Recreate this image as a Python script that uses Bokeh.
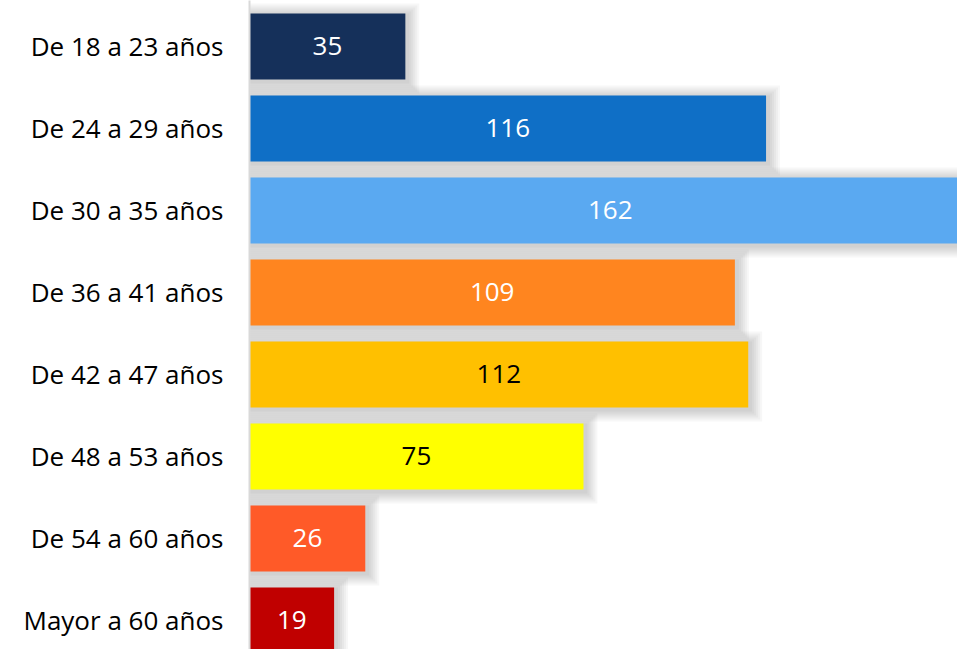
from bokeh.plotting import figure
from bokeh.models import ColumnDataSource, Range1d, FixedTicker
from bokeh.core.properties import value
from bokeh.embed import file_html
from bokeh.resources import INLINE

categories = ["De 18 a 23 años", "De 24 a 29 años", "De 30 a 35 años", "De 36 a 41 años",
              "De 42 a 47 años", "De 48 a 53 años", "De 54 a 60 años", "Mayor a 60 años"]
values = [35, 116, 162, 109, 112, 75, 26, 19]
colors = ["#15305A", "#0F6FC6", "#5AA9F1", "#FF851F", "#FFC000", "#FFFF00", "#FF5A28", "#C00000"]
label_colors = ["white", "white", "white", "white", "black", "black", "white", "white"]

ypos = list(range(len(categories)))
src = ColumnDataSource(dict(
    y=ypos, v=values, mid=[v / 2 for v in values], color=colors,
    lab=[str(v) for v in values], lc=label_colors))

W, H = 957, 649
LEFT = 249
PX_X = 4.453  # pixels per unit
PX_Y = 82.0   # pixels per category
TOP = -0.56

p = figure(width=W, height=H, output_backend="svg", toolbar_location=None,
           x_range=Range1d(0, (W - LEFT) / PX_X),
           y_range=Range1d(TOP + H / PX_Y, TOP),
           min_border_left=LEFT, min_border_right=0, min_border_top=0, min_border_bottom=0)
p.outline_line_color = None
p.xgrid.visible = False
p.ygrid.visible = False
p.xaxis.visible = False
p.background_fill_color = "white"
p.border_fill_color = "white"

BH = 0.805
# soft drop shadow
for r in [12, 10, 8, 6, 4, 2]:
    p.hbar(y=[y + 2 / PX_Y for y in ypos], left=[0] * len(values),
           right=[v + (r + 2) / PX_X for v in values], height=BH + 2 * r / PX_Y,
           fill_color="black", fill_alpha=0.033, line_color=None)

p.hbar(y="y", left=0, right="v", height=BH, source=src, fill_color="color", line_color=None)
p.text(x="mid", y="y", text="lab", source=src, text_align="center", text_baseline="middle",
       text_color="lc", text_font=value("Open Sans"), text_font_size=value("26px"))

ax = p.yaxis[0]
ax.ticker = FixedTicker(ticks=ypos)
ax.major_label_overrides = {i: c for i, c in enumerate(categories)}
ax.major_tick_line_color = None
ax.minor_tick_line_color = None
ax.axis_line_color = "#D9D9D9"
ax.axis_line_width = 2
ax.major_label_standoff = 20
ax.major_label_text_font = "Open Sans"
ax.major_label_text_font_size = "26px"
ax.major_label_text_color = "black"

open("out.html", "w").write(file_html(p, INLINE))
